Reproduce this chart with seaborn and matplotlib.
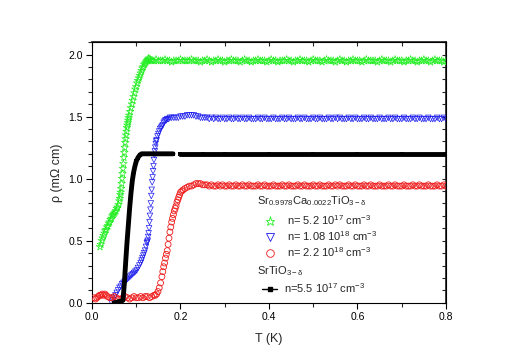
import numpy as np
import pandas as pd
import seaborn as sns
import matplotlib
matplotlib.use('Agg')
import matplotlib.pyplot as plt
from matplotlib.lines import Line2D
from matplotlib.ticker import MultipleLocator

# === data ===
# shared temperature grid for the flat high-T part of the marker curves
t_tail = [0.255, 0.260, 0.265, 0.270, 0.275, 0.280, 0.285, 0.290, 0.295, 0.300,
          0.305, 0.310, 0.315, 0.320, 0.325, 0.330, 0.335, 0.340, 0.345, 0.350,
          0.355, 0.360, 0.365, 0.370, 0.375, 0.380, 0.385, 0.390, 0.395, 0.400,
          0.405, 0.410, 0.415, 0.420, 0.425, 0.430, 0.435, 0.440, 0.445, 0.450,
          0.455, 0.460, 0.465, 0.470, 0.475, 0.480, 0.485, 0.490, 0.495, 0.500,
          0.505, 0.510, 0.515, 0.520, 0.525, 0.530, 0.535, 0.540, 0.545, 0.550,
          0.555, 0.560, 0.565, 0.570, 0.575, 0.580, 0.585, 0.590, 0.595, 0.600,
          0.605, 0.610, 0.615, 0.620, 0.625, 0.630, 0.635, 0.640, 0.645, 0.650,
          0.655, 0.660, 0.665, 0.670, 0.675, 0.680, 0.685, 0.690, 0.695, 0.700,
          0.705, 0.710, 0.715, 0.720, 0.725, 0.730, 0.735, 0.740, 0.745, 0.750,
          0.755, 0.760, 0.765, 0.770, 0.775, 0.780, 0.785, 0.790, 0.795, 0.800]

# n = 5.2e17 (green stars)
green_t = [0.018, 0.020, 0.022, 0.024, 0.026, 0.028, 0.030, 0.032, 0.034, 0.036,
           0.038, 0.040, 0.042, 0.044, 0.046, 0.048, 0.050, 0.052, 0.054, 0.056,
           0.058, 0.060, 0.062, 0.063, 0.064, 0.065, 0.066, 0.067, 0.068, 0.069,
           0.070, 0.071, 0.072, 0.073, 0.074, 0.075, 0.076, 0.077, 0.078, 0.079,
           0.080, 0.081, 0.082, 0.083, 0.084, 0.086, 0.088, 0.090, 0.092, 0.094,
           0.096, 0.098, 0.100, 0.102, 0.104, 0.106, 0.108, 0.110, 0.112, 0.114,
           0.116, 0.118, 0.120, 0.122, 0.124, 0.126, 0.128, 0.130, 0.132, 0.134,
           0.136, 0.140, 0.145, 0.150, 0.155, 0.160, 0.165, 0.170, 0.175, 0.180,
           0.185, 0.190, 0.195, 0.200, 0.205, 0.210, 0.215, 0.220, 0.225, 0.230,
           0.235, 0.240, 0.245, 0.250]
green_rho = [0.45, 0.47, 0.50, 0.52, 0.54, 0.56, 0.58, 0.59, 0.61, 0.62,
             0.64, 0.65, 0.67, 0.68, 0.70, 0.71, 0.72, 0.73, 0.74, 0.76,
             0.77, 0.79, 0.82, 0.84, 0.87, 0.89, 0.92, 0.96, 1.00, 1.04,
             1.08, 1.12, 1.17, 1.21, 1.25, 1.29, 1.32, 1.35, 1.38, 1.41,
             1.43, 1.45, 1.47, 1.49, 1.51, 1.54, 1.57, 1.60, 1.63, 1.66,
             1.69, 1.72, 1.74, 1.77, 1.79, 1.81, 1.83, 1.85, 1.87, 1.89,
             1.90, 1.92, 1.93, 1.94, 1.95, 1.96, 1.97, 1.96, 1.96, 1.95,
             1.95, 1.95, 1.96, 1.95, 1.95, 1.95, 1.96, 1.95, 1.95, 1.94,
             1.95, 1.95, 1.95, 1.96, 1.95, 1.95, 1.95, 1.95, 1.96, 1.95,
             1.95, 1.95, 1.94, 1.95]
green_tail = [1.95, 1.96, 1.95, 1.94, 1.95, 1.95, 1.96, 1.95, 1.95, 1.94,
              1.95, 1.95, 1.96, 1.95, 1.95, 1.95, 1.94, 1.95, 1.96, 1.95,
              1.95, 1.94, 1.95, 1.95, 1.96, 1.95, 1.95, 1.95, 1.94, 1.95,
              1.96, 1.95, 1.95, 1.94, 1.95, 1.95, 1.95, 1.96, 1.95, 1.95,
              1.94, 1.95, 1.95, 1.96, 1.95, 1.95, 1.95, 1.94, 1.95, 1.96,
              1.95, 1.95, 1.95, 1.94, 1.95, 1.96, 1.95, 1.95, 1.95, 1.94,
              1.95, 1.96, 1.95, 1.95, 1.94, 1.95, 1.95, 1.96, 1.95, 1.95,
              1.95, 1.94, 1.95, 1.96, 1.95, 1.95, 1.95, 1.95, 1.94, 1.95,
              1.96, 1.95, 1.95, 1.95, 1.94, 1.95, 1.96, 1.95, 1.95, 1.95,
              1.94, 1.95, 1.95, 1.96, 1.95, 1.95, 1.94, 1.95, 1.95, 1.96,
              1.95, 1.95, 1.94, 1.95, 1.96, 1.95, 1.95, 1.95, 1.94, 1.95]

# n = 1.08e18 (blue triangles)
blue_t = [0.044, 0.047, 0.050, 0.053, 0.056, 0.059, 0.062, 0.065, 0.068, 0.071,
          0.074, 0.077, 0.080, 0.083, 0.086, 0.089, 0.092, 0.095, 0.098, 0.101,
          0.104, 0.107, 0.110, 0.112, 0.114, 0.116, 0.118, 0.120, 0.122, 0.124,
          0.125, 0.126, 0.127, 0.128, 0.129, 0.130, 0.131, 0.132, 0.133, 0.134,
          0.135, 0.136, 0.137, 0.138, 0.139, 0.140, 0.141, 0.142, 0.143, 0.144,
          0.145, 0.146, 0.148, 0.150, 0.152, 0.154, 0.156, 0.158, 0.160, 0.162,
          0.164, 0.166, 0.168, 0.170, 0.173, 0.176, 0.180, 0.185, 0.190, 0.195,
          0.200, 0.205, 0.210, 0.215, 0.220, 0.225, 0.230, 0.235, 0.240, 0.245,
          0.250]
blue_rho = [0.00, 0.02, 0.04, 0.06, 0.08, 0.10, 0.12, 0.13, 0.15, 0.16,
            0.17, 0.18, 0.19, 0.20, 0.21, 0.22, 0.23, 0.24, 0.25, 0.26,
            0.28, 0.30, 0.32, 0.34, 0.36, 0.38, 0.40, 0.42, 0.45, 0.48,
            0.49, 0.50, 0.53, 0.56, 0.60, 0.65, 0.70, 0.75, 0.80, 0.86,
            0.91, 0.97, 1.01, 1.06, 1.10, 1.15, 1.19, 1.22, 1.25, 1.28,
            1.30, 1.31, 1.34, 1.36, 1.38, 1.40, 1.41, 1.42, 1.43, 1.45,
            1.46, 1.47, 1.47, 1.48, 1.48, 1.49, 1.49, 1.49, 1.49, 1.49,
            1.50, 1.50, 1.50, 1.51, 1.51, 1.51, 1.51, 1.50, 1.50, 1.49,
            1.49]
blue_tail = [1.49, 1.49, 1.48, 1.49, 1.48, 1.49, 1.48, 1.48, 1.49, 1.48,
             1.48, 1.49, 1.48, 1.48, 1.49, 1.48, 1.48, 1.49, 1.48, 1.48,
             1.49, 1.48, 1.48, 1.48, 1.49, 1.48, 1.48, 1.49, 1.48, 1.48,
             1.48, 1.49, 1.48, 1.48, 1.48, 1.49, 1.48, 1.48, 1.49, 1.48,
             1.48, 1.48, 1.49, 1.48, 1.48, 1.49, 1.48, 1.48, 1.48, 1.49,
             1.48, 1.48, 1.49, 1.48, 1.48, 1.48, 1.49, 1.48, 1.48, 1.49,
             1.48, 1.49, 1.48, 1.48, 1.48, 1.49, 1.48, 1.48, 1.49, 1.48,
             1.48, 1.48, 1.49, 1.48, 1.48, 1.49, 1.48, 1.48, 1.48, 1.49,
             1.48, 1.48, 1.48, 1.49, 1.48, 1.48, 1.49, 1.48, 1.48, 1.48,
             1.49, 1.48, 1.48, 1.48, 1.49, 1.48, 1.48, 1.49, 1.48, 1.48,
             1.48, 1.49, 1.48, 1.48, 1.48, 1.49, 1.48, 1.48, 1.49, 1.48]

# n = 2.2e18 (red circles)
red_t = [0.005, 0.008, 0.011, 0.014, 0.017, 0.020, 0.023, 0.026, 0.029, 0.032,
         0.035, 0.040, 0.045, 0.050, 0.055, 0.060, 0.065, 0.070, 0.075, 0.080,
         0.085, 0.090, 0.095, 0.100, 0.105, 0.110, 0.115, 0.120, 0.125, 0.130,
         0.135, 0.140, 0.143, 0.146, 0.149, 0.152, 0.155, 0.158, 0.160, 0.162,
         0.164, 0.166, 0.168, 0.170, 0.172, 0.174, 0.176, 0.178, 0.180, 0.182,
         0.184, 0.186, 0.188, 0.190, 0.192, 0.194, 0.196, 0.198, 0.200, 0.203,
         0.206, 0.210, 0.215, 0.220, 0.225, 0.230, 0.235, 0.240, 0.245, 0.250]
red_rho = [0.04, 0.03, 0.04, 0.05, 0.06, 0.06, 0.07, 0.06, 0.07, 0.06,
           0.05, 0.04, 0.04, 0.05, 0.04, 0.03, 0.03, 0.04, 0.05, 0.04,
           0.03, 0.04, 0.05, 0.04, 0.04, 0.05, 0.04, 0.05, 0.05, 0.04,
           0.05, 0.06, 0.06, 0.07, 0.09, 0.12, 0.16, 0.21, 0.25, 0.29,
           0.32, 0.36, 0.39, 0.42, 0.47, 0.52, 0.57, 0.61, 0.65, 0.68,
           0.71, 0.74, 0.76, 0.78, 0.81, 0.83, 0.85, 0.87, 0.89, 0.90,
           0.91, 0.92, 0.93, 0.94, 0.94, 0.95, 0.96, 0.96, 0.96, 0.95]
red_tail = [0.95, 0.95, 0.94, 0.95, 0.94, 0.94, 0.95, 0.94, 0.95, 0.94,
            0.94, 0.95, 0.94, 0.94, 0.95, 0.94, 0.94, 0.95, 0.94, 0.94,
            0.95, 0.94, 0.94, 0.94, 0.95, 0.94, 0.94, 0.95, 0.94, 0.94,
            0.94, 0.95, 0.94, 0.94, 0.94, 0.95, 0.94, 0.94, 0.95, 0.94,
            0.94, 0.94, 0.95, 0.94, 0.94, 0.95, 0.94, 0.94, 0.94, 0.95,
            0.94, 0.94, 0.95, 0.94, 0.94, 0.94, 0.95, 0.94, 0.94, 0.95,
            0.94, 0.95, 0.94, 0.94, 0.94, 0.95, 0.94, 0.94, 0.95, 0.94,
            0.94, 0.94, 0.95, 0.94, 0.94, 0.95, 0.94, 0.94, 0.94, 0.95,
            0.94, 0.94, 0.94, 0.95, 0.94, 0.94, 0.95, 0.94, 0.94, 0.94,
            0.95, 0.94, 0.94, 0.94, 0.95, 0.94, 0.94, 0.95, 0.94, 0.94,
            0.94, 0.95, 0.94, 0.94, 0.94, 0.95, 0.94, 0.94, 0.95, 0.94]

# SrTiO3 n = 5.5e17 (black squares + line), gap near 0.19 K
black_t_a = [0.050, 0.055, 0.060, 0.065, 0.070, 0.073, 0.076, 0.079, 0.082, 0.085,
             0.088, 0.091, 0.094, 0.097, 0.100, 0.104, 0.108, 0.112, 0.116, 0.120,
             0.13, 0.14, 0.15, 0.16, 0.17, 0.18, 0.183]
black_rho_a = [0.00, 0.00, 0.01, 0.01, 0.02, 0.15, 0.32, 0.48, 0.62, 0.76,
               0.88, 0.98, 1.05, 1.10, 1.14, 1.17, 1.19, 1.20, 1.20, 1.20,
               1.20, 1.20, 1.20, 1.20, 1.20, 1.20, 1.20]
black_t_b = [0.20, 0.25, 0.30, 0.40, 0.50, 0.60, 0.70, 0.80]
black_rho_b = [1.20, 1.20, 1.20, 1.20, 1.20, 1.20, 1.20, 1.20]

labels = [r'n= 5.2 10$^{\mathregular{17}}$ cm$^{\mathregular{-3}}$',
          r'n= 1.08 10$^{\mathregular{18}}$ cm$^{\mathregular{-3}}$',
          r'n= 2.2 10$^{\mathregular{18}}$ cm$^{\mathregular{-3}}$',
          r'n=5.5 10$^{\mathregular{17}}$ cm$^{\mathregular{-3}}$']

green_c = '#22ee22'
blue_c = '#1a1aee'
red_c = '#ee1a1a'

# === style ===
sns.set_theme(style='ticks')
plt.rcParams['font.family'] = ['Liberation Sans', 'DejaVu Sans']
plt.rcParams['mathtext.fontset'] = 'custom'
plt.rcParams['mathtext.rm'] = 'Liberation Sans'
plt.rcParams['mathtext.it'] = 'Liberation Sans:italic'
plt.rcParams['mathtext.bf'] = 'Liberation Sans:bold'

fig = plt.figure(figsize=(5.18, 3.63), dpi=100)
ax = fig.add_axes([0.1776, 0.166, 0.6834, 0.718])

green = pd.DataFrame({'T': green_t + t_tail, 'rho': green_rho + green_tail})
blue = pd.DataFrame({'T': blue_t + t_tail, 'rho': blue_rho + blue_tail})
red = pd.DataFrame({'T': red_t + t_tail, 'rho': red_rho + red_tail})
black_a = pd.DataFrame({'T': black_t_a, 'rho': black_rho_a})
black_b = pd.DataFrame({'T': black_t_b, 'rho': black_rho_b})

sns.scatterplot(data=green, x='T', y='rho', marker='*', s=32, color=green_c,
                facecolors='none', edgecolor=green_c, linewidth=0.5, ax=ax, zorder=3)
sns.scatterplot(data=blue, x='T', y='rho', marker='v', s=16, color=blue_c,
                facecolors='none', edgecolor=blue_c, linewidth=0.5, ax=ax, zorder=3)
sns.scatterplot(data=red, x='T', y='rho', marker='o', s=18, color=red_c,
                facecolors='none', edgecolor=red_c, linewidth=0.6, ax=ax, zorder=3)
for seg in (black_a, black_b):
    sns.lineplot(data=seg, x='T', y='rho', color='black', lw=3.5, marker='s',
                 markersize=3.2, markeredgewidth=0, estimator=None, sort=False,
                 ax=ax, zorder=4)

ax.set_xlim(0.0, 0.8)
ax.set_ylim(0.0, 2.1)
ax.xaxis.set_major_locator(MultipleLocator(0.2))
ax.xaxis.set_minor_locator(MultipleLocator(0.1))
ax.yaxis.set_major_locator(MultipleLocator(0.5))
ax.yaxis.set_minor_locator(MultipleLocator(0.1))
ax.tick_params(which='major', direction='out', length=4, width=0.8,
               labelsize=7.5, pad=2.5, colors='black')
ax.tick_params(which='minor', direction='out', length=3, width=0.8)
for sp in ax.spines.values():
    sp.set_visible(True)
    sp.set_linewidth(0.8)
    sp.set_color('black')

# top and right ticks point inward
top = ax.secondary_xaxis('top')
top.xaxis.set_major_locator(MultipleLocator(0.2))
top.xaxis.set_minor_locator(MultipleLocator(0.1))
top.tick_params(which='both', direction='in', length=3, width=0.8, labeltop=False)
right = ax.secondary_yaxis('right')
right.yaxis.set_major_locator(MultipleLocator(0.5))
right.yaxis.set_minor_locator(MultipleLocator(0.1))
right.tick_params(which='both', direction='in', length=3, width=0.8, labelright=False)

ax.set_xlabel('T (K)', fontsize=9, labelpad=8)
ax.set_ylabel('\u03c1 (m\u03a9 cm)', fontsize=9, labelpad=4)

# legend
fig.text(257 / 518, 1 - 204 / 363,
         r'Sr$_{\mathregular{0.9978}}$Ca$_{\mathregular{0.0022}}$TiO$_{\mathregular{3-\delta}}$',
         fontsize=8, va='baseline', ha='left')
fig.text(257 / 518, 1 - 274 / 363, r'SrTiO$_{\mathregular{3-\delta}}$',
         fontsize=8, va='baseline', ha='left')

h1 = [Line2D([], [], ls='none', marker='*', ms=6.5, mfc='none', mec=green_c, mew=0.6),
      Line2D([], [], ls='none', marker='v', ms=5.5, mfc='none', mec=blue_c, mew=0.6),
      Line2D([], [], ls='none', marker='o', ms=5.5, mfc='none', mec=red_c, mew=0.6)]
leg1 = ax.legend(h1, labels[:3], loc='upper left', bbox_to_anchor=(262 / 518, 1 - 213 / 363),
                 bbox_transform=fig.transFigure, frameon=False, fontsize=8,
                 borderpad=0, borderaxespad=0, handlelength=1.35, handletextpad=0.9,
                 labelspacing=0.2)
ax.add_artist(leg1)
h2 = [Line2D([], [], color='black', lw=1, marker='s', ms=3.5)]
ax.legend(h2, labels[3:], loc='center left', bbox_to_anchor=(262 / 518, 1 - 288 / 363),
          bbox_transform=fig.transFigure, frameon=False, fontsize=8,
          borderpad=0, borderaxespad=0, handlelength=1.35, handletextpad=0.6)

fig.savefig('out.png', dpi=100)
